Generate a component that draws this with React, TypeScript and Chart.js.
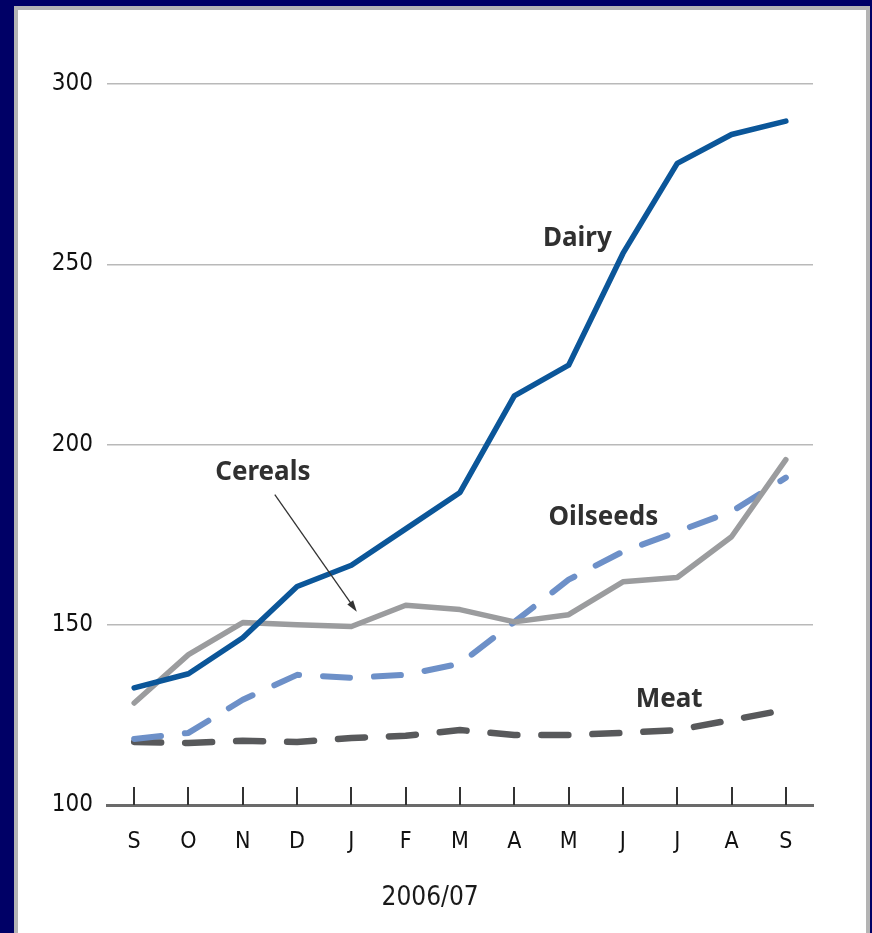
import React, { useEffect, useRef } from 'react';
import { Chart, registerables } from 'chart.js';

Chart.register(...registerables);

const months = ['S', 'O', 'N', 'D', 'J', 'F', 'M', 'A', 'M', 'J', 'J', 'A', 'S'];
const dairy = [132.5, 136.4, 146.4, 160.6, 166.5, 176.6, 186.7, 213.5, 222.0, 253.0, 278.0, 286.0, 289.7];
const cereals = [128.3, 141.7, 150.6, 150.0, 149.5, 155.4, 154.2, 150.8, 152.8, 161.9, 163.1, 174.4, 195.8];
const oilseeds = [118.3, 120.0, 129.2, 136.1, 135.3, 136.1, 139.2, 150.8, 162.5, 170.3, 175.8, 181.4, 190.8];
const meat = [117.5, 117.2, 117.8, 117.5, 118.6, 119.2, 120.8, 119.4, 119.4, 120.0, 120.8, 123.6, 126.4];
const yMin = 100;
const yMax = 300;
const yStep = 50;
const axisTitle = '2006/07';

// annotation anchors in data space (category index, value)
const seriesLabels = [
  { text: 'Dairy', x: 8.16, y: 257.2 },
  { text: 'Cereals', x: 2.37, y: 192.2 },
  { text: 'Oilseeds', x: 8.64, y: 179.7 },
  { text: 'Meat', x: 9.85, y: 129.2 },
];
const arrowFrom = { x: 2.59, y: 186.1 };
const arrowTo = { x: 4.1, y: 153.6 };
const titleAnchorX = 5.45;

const TICK_FONT = '"DejaVu Sans Condensed", "Liberation Sans Narrow", "Open Sans", sans-serif';
const LABEL_FONT = '"Noto Sans", "Open Sans", "DejaVu Sans", sans-serif';

const overlayPlugin = {
  id: 'overlay',
  afterDatasetsDraw(chart: any) {
    const ctx = chart.ctx;
    const xs = chart.scales.x;
    const ys = chart.scales.y;
    const area = chart.chartArea;
    ctx.save();
    // vertical tick marks above the base axis
    ctx.strokeStyle = '#333333';
    ctx.lineWidth = 2;
    for (let i = 0; i < months.length; i++) {
      const px = Math.round(xs.getPixelForValue(i));
      ctx.beginPath();
      ctx.moveTo(px, area.bottom);
      ctx.lineTo(px, area.bottom - 18);
      ctx.stroke();
    }
    // series labels
    ctx.fillStyle = '#303030';
    ctx.font = `bold 26px ${LABEL_FONT}`;
    ctx.textAlign = 'center';
    ctx.textBaseline = 'middle';
    for (const l of seriesLabels) {
      ctx.fillText(l.text, xs.getPixelForValue(l.x), ys.getPixelForValue(l.y));
    }
    // arrow
    const x1 = xs.getPixelForValue(arrowFrom.x);
    const y1 = ys.getPixelForValue(arrowFrom.y);
    const x2 = xs.getPixelForValue(arrowTo.x);
    const y2 = ys.getPixelForValue(arrowTo.y);
    ctx.strokeStyle = '#333333';
    ctx.fillStyle = '#333333';
    ctx.lineWidth = 1.3;
    const ang = Math.atan2(y2 - y1, x2 - x1);
    const hl = 12;
    ctx.beginPath();
    ctx.moveTo(x1, y1);
    ctx.lineTo(x2 - Math.cos(ang) * hl * 0.8, y2 - Math.sin(ang) * hl * 0.8);
    ctx.stroke();
    ctx.beginPath();
    ctx.moveTo(x2, y2);
    ctx.lineTo(x2 - hl * Math.cos(ang - 0.3), y2 - hl * Math.sin(ang - 0.3));
    ctx.lineTo(x2 - hl * Math.cos(ang + 0.3), y2 - hl * Math.sin(ang + 0.3));
    ctx.closePath();
    ctx.fill();
    // axis title
    ctx.fillStyle = '#1a1a1a';
    ctx.font = `26px ${TICK_FONT}`;
    ctx.textAlign = 'center';
    ctx.textBaseline = 'middle';
    ctx.fillText(axisTitle, xs.getPixelForValue(titleAnchorX), area.bottom + 93);
    ctx.restore();
  },
};

export default function App() {
  const ref = useRef<HTMLCanvasElement>(null);
  useEffect(() => {
    if (!ref.current) return;
    const chart = new Chart(ref.current, {
      type: 'line',
      data: {
        labels: months,
        datasets: [
          {
            label: 'Dairy',
            data: dairy,
            borderColor: '#0b5699',
            borderWidth: 5.5,
            pointRadius: 0,
            tension: 0,
            borderCapStyle: 'round',
            borderJoinStyle: 'round',
          },
          {
            label: 'Cereals',
            data: cereals,
            borderColor: '#9b9c9e',
            borderWidth: 5.5,
            pointRadius: 0,
            tension: 0,
            borderCapStyle: 'round',
            borderJoinStyle: 'round',
          },
          {
            label: 'Oilseeds',
            data: oilseeds,
            borderColor: '#6d90c8',
            borderWidth: 6,
            borderDash: [27, 24],
            pointRadius: 0,
            tension: 0,
            borderCapStyle: 'round',
            borderJoinStyle: 'round',
          },
          {
            label: 'Meat',
            data: meat,
            borderColor: '#58595b',
            borderWidth: 6.5,
            borderDash: [27, 24],
            pointRadius: 0,
            tension: 0,
            borderCapStyle: 'round',
            borderJoinStyle: 'round',
          },
        ],
      },
      options: {
        responsive: false,
        animation: false,
        devicePixelRatio: 1,
        layout: { padding: { left: 0, right: 59, top: 84, bottom: 0 } },
        plugins: { legend: { display: false }, tooltip: { enabled: false } },
        scales: {
          x: {
            offset: true,
            grid: { display: false, drawTicks: false },
            border: { display: true, color: '#6a6a6a', width: 3 },
            ticks: {
              padding: 23,
              color: '#111111',
              font: { family: TICK_FONT, size: 23 },
              maxRotation: 0,
              autoSkip: false,
            },
            afterFit: (s: any) => {
              s.height = 128;
            },
          },
          y: {
            min: yMin,
            max: yMax,
            ticks: {
              stepSize: yStep,
              padding: 14,
              color: '#111111',
              font: { family: TICK_FONT, size: 24 },
            },
            grid: {
              drawTicks: false,
              color: (c: any) => (c.tick && c.tick.value === yMin ? 'rgba(0,0,0,0)' : '#b9b9b9'),
              lineWidth: 1.5,
            },
            border: { display: false },
            afterFit: (s: any) => {
              s.width = 107;
            },
          },
        },
      },
      plugins: [overlayPlugin],
    } as any);
    return () => chart.destroy();
  }, []);

  return (
    <div
      style={{
        position: 'absolute',
        left: 0,
        top: 0,
        width: 872,
        height: 933,
        background: '#000066',
        overflow: 'hidden',
      }}
    >
      <div
        style={{
          position: 'absolute',
          left: 14,
          top: 6,
          width: 848,
          height: 940,
          border: '4px solid #b4b4b4',
          background: '#ffffff',
        }}
      />
      <canvas ref={ref} width={872} height={933} style={{ position: 'absolute', left: 0, top: 0 }} />
    </div>
  );
}
